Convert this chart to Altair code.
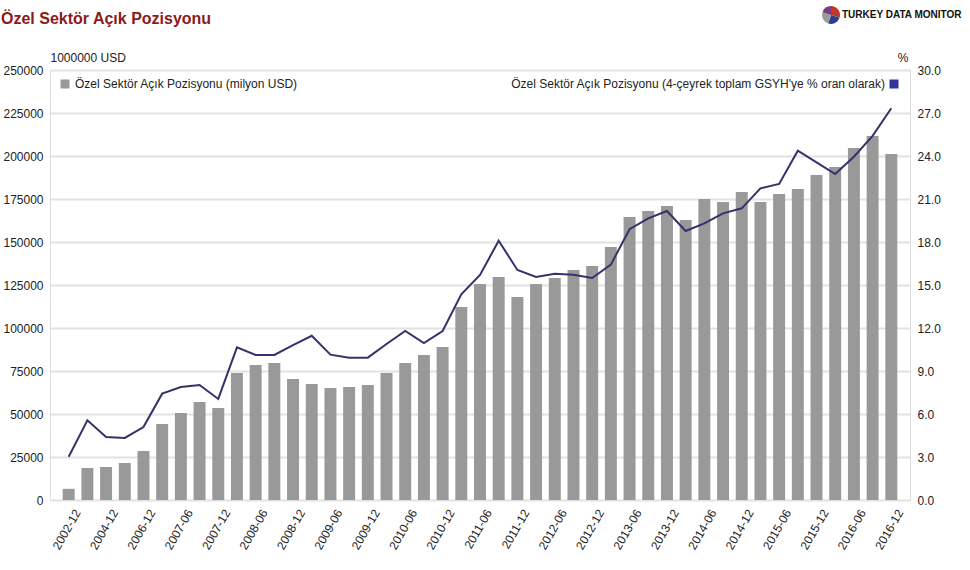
import altair as alt
import pandas as pd

# ---- data ----
categories = ["2002-12", "2003-12", "2004-12", "2005-12", "2006-12"] + [
    f"{y}-{m}" for y in range(2007, 2017) for m in ("03", "06", "09", "12")
]
bars_musd = [6500, 18600, 19200, 21500, 28500, 44200, 50600, 57000, 53500, 73800,
             78500, 79700, 70300, 67400, 65100, 65700, 66800, 73800, 79700, 84300,
             88900, 112200, 125600, 129700, 118000, 125600, 129100, 133700, 136000, 147100,
             164500, 168000, 170900, 162800, 175000, 173300, 179100, 173300, 177900, 180800,
             188900, 193600, 204700, 211600, 201200]
pct_gdp = [3.02, 5.56, 4.40, 4.33, 5.09, 7.42, 7.88, 8.02, 7.05, 10.65,
           10.12, 10.12, 10.81, 11.46, 10.14, 9.93, 9.93, 10.88, 11.79, 10.95,
           11.79, 14.35, 15.70, 18.09, 16.05, 15.56, 15.79, 15.72, 15.49, 16.42,
           18.89, 19.65, 20.16, 18.77, 19.30, 20.00, 20.35, 21.74, 22.05, 24.37,
           23.56, 22.74, 23.95, 25.40, 27.33]
left_ticks = [0, 25000, 50000, 75000, 100000, 125000, 150000, 175000, 200000, 225000, 250000]
right_ticks = [0, 3, 6, 9, 12, 15, 18, 21, 24, 27, 30]
x_label_values = categories[::2]

title_text = "Özel Sektör Açık Pozisyonu"
legend_bar = "Özel Sektör Açık Pozisyonu (milyon USD)"
legend_line = "Özel Sektör Açık Pozisyonu (4-çeyrek toplam GSYH'ye % oran olarak)"
logo_text = "TURKEY DATA MONITOR"
logo_slices = [30, 25, 25, 20]
logo_colors = ["#c0392b", "#2c3e8f", "#9a9a9a", "#7a3f7a"]

df = pd.DataFrame({"cat": categories, "usd": bars_musd, "pct": pct_gdp})

FONT = "Liberation Sans"

x_enc = alt.X(
    "cat:N", sort=categories, title=None,
    scale=alt.Scale(paddingInner=0.36, paddingOuter=0.68),
    axis=alt.Axis(values=x_label_values, labelAngle=-60, labelAlign="right",
                  labelBaseline="middle", ticks=False, domain=False,
                  labelPadding=10, labelOffset=9,
                  labelFont=FONT, labelFontSize=12, labelColor="#222"),
)

bars = alt.Chart(df).mark_bar(color="#999999").encode(
    x=x_enc,
    y=alt.Y("usd:Q", scale=alt.Scale(domain=[0, 250000], nice=False),
            axis=alt.Axis(values=left_ticks, format="d", title="1000000 USD",
                          titleAngle=0, titleX=0, titleY=-6, titleAlign="left",
                          titleBaseline="bottom", titleFont=FONT, titleFontSize=12,
                          titleFontWeight="normal", titleColor="#222",
                          labelFont=FONT, labelFontSize=12, labelColor="#222",
                          ticks=False, domain=False, labelPadding=7,
                          grid=True, gridColor="#e2e2e2", gridWidth=2)),
)

line = alt.Chart(df).mark_line(color="#33336b", strokeWidth=2).encode(
    x=alt.X("cat:N", sort=categories),
    y=alt.Y("pct:Q", scale=alt.Scale(domain=[0, 30], nice=False),
            axis=alt.Axis(values=right_ticks, format=".1f", title="%", orient="right",
                          titleAngle=0, titleX=-2, titleY=-6, titleAlign="right",
                          titleBaseline="bottom", titleFont=FONT, titleFontSize=12,
                          titleFontWeight="normal", titleColor="#222",
                          labelFont=FONT, labelFontSize=12, labelColor="#222",
                          ticks=False, domain=False, labelPadding=7, grid=False)),
)

legend_df = pd.DataFrame({"a": [0]})
leg1_sq = alt.Chart(legend_df).mark_square(color="#999999", size=81, opacity=1).encode(
    x=alt.value(15), y=alt.value(14))
leg1_tx = alt.Chart(legend_df).mark_text(
    text=legend_bar, align="left", baseline="middle", font=FONT, fontSize=12, color="#222"
).encode(x=alt.value(25), y=alt.value(14))
leg2_sq = alt.Chart(legend_df).mark_square(color="#333399", size=81, opacity=1).encode(
    x=alt.value(844), y=alt.value(14))
leg2_tx = alt.Chart(legend_df).mark_text(
    text=legend_line, align="right", baseline="middle", font=FONT, fontSize=12, color="#222"
).encode(x=alt.value(835), y=alt.value(14))

title = alt.Chart(legend_df).mark_text(
    text=title_text, align="left", baseline="alphabetic", font=FONT, fontSize=16,
    fontWeight="bold", color="#8b1a1a"
).encode(x=alt.value(-49), y=alt.value(-46))

logo_tx = alt.Chart(legend_df).mark_text(
    text=logo_text, align="left", baseline="middle", font=FONT,
    fontSize=10, fontWeight="bold", color="#111"
).encode(x=alt.value(792), y=alt.value(-55))

pie_df = pd.DataFrame({"v": logo_slices, "c": logo_colors, "o": list(range(4))})
logo_pie = alt.Chart(pie_df).mark_arc(outerRadius=9).encode(
    theta=alt.Theta("v:Q", stack=True),
    color=alt.Color("c:N", scale=None),
    order=alt.Order("o:Q"),
    x=alt.value(781), y=alt.value(-55),
)

chart = (
    alt.layer(bars, line).resolve_scale(y="independent")
)
chart = alt.layer(chart, leg1_sq, leg1_tx, leg2_sq, leg2_tx, title, logo_tx, logo_pie).properties(
    width=860, height=430,
    autosize=alt.AutoSizeParams(type="none"),
    padding={"left": 50, "top": 70, "right": 60, "bottom": 70},
).configure_view(stroke="#d4d4d4", strokeWidth=2).configure(background="white")

chart.save("out.html", embed_options={"renderer": "svg", "actions": False})
